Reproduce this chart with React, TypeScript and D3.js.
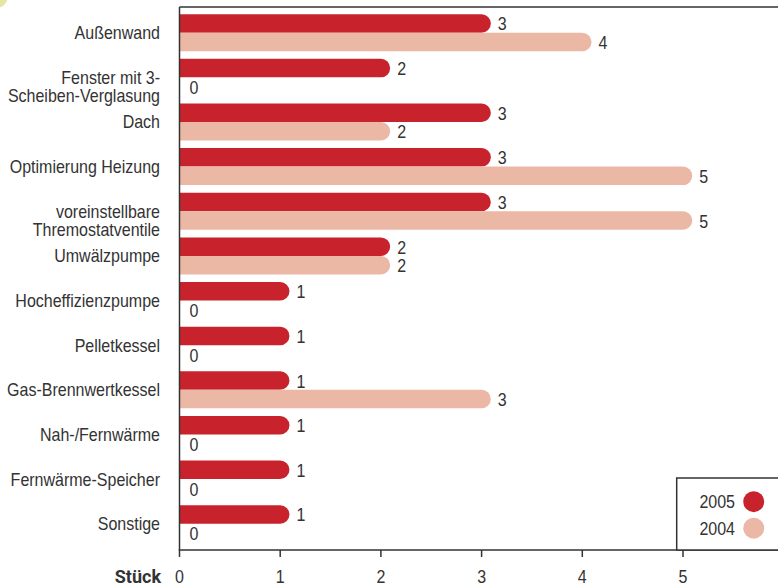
import React from "react";
import * as d3 from "d3";

const categories: string[][] = [
  ["Außenwand"],
  ["Fenster mit 3-", "Scheiben-Verglasung"],
  ["Dach"],
  ["Optimierung Heizung"],
  ["voreinstellbare", "Thremostatventile"],
  ["Umwälzpumpe"],
  ["Hocheffizienzpumpe"],
  ["Pelletkessel"],
  ["Gas-Brennwertkessel"],
  ["Nah-/Fernwärme"],
  ["Fernwärme-Speicher"],
  ["Sonstige"],
];

const values2005 = [3, 2, 3, 3, 3, 2, 1, 1, 1, 1, 1, 1];
const values2004 = [4, 0, 2, 5, 5, 2, 0, 0, 3, 0, 0, 0];

const seriesNames = ["2005", "2004"];
const xTicks = [0, 1, 2, 3, 4, 5];
const axisTitle = "Stück";

const W = 778;
const H = 586;
const RED = "#c8232c";
const PINK = "#ebb8a5";
const INK = "#333333";
const FONT = "'Liberation Sans', Arial, sans-serif";
const FS = 18;
const SX = 0.89; // horizontal condensing of the label face

const x = d3.scaleLinear().domain([0, 5]).range([179.5, 683]);
const yCenter = d3
  .scalePoint<number>()
  .domain(d3.range(categories.length))
  .range([32.7, 523.7]);

const BAR_H = 18.5;
const R = BAR_H / 2;

function barPath(v: number, top: number): string {
  const x0 = x(0);
  const x1 = x(v);
  const p = d3.path();
  p.moveTo(x0, top);
  p.lineTo(x1, top);
  p.arc(x1, top + R, R, -Math.PI / 2, Math.PI / 2);
  p.lineTo(x0, top + BAR_H);
  p.closePath();
  return p.toString();
}

function labelX(v: number): number {
  return v > 0 ? x(v) + R + 7 : x(0) + 10;
}

type CTextProps = {
  x: number;
  y: number;
  anchor?: "start" | "middle" | "end";
  size?: number;
  weight?: string;
  children: React.ReactNode;
};

function CText({ x, y, anchor = "start", size = FS, weight = "normal", children }: CTextProps) {
  return (
    <text
      transform={`translate(${x},${y}) scale(${SX},1)`}
      textAnchor={anchor}
      fontSize={size}
      fontWeight={weight}
      fill={INK}
    >
      {children}
    </text>
  );
}

export default function App() {
  const axisY = 550;
  const frameTop = 7;
  return (
    <svg
      width={W}
      height={H}
      viewBox={`0 0 ${W} ${H}`}
      style={{ position: "absolute", left: 0, top: 0, background: "#fff" }}
      fontFamily={FONT}
    >
      <circle cx={-4} cy={-4} r={12} fill="#e4e6a6" />

      {categories.map((lines, i) => {
        const c = yCenter(i)!;
        const top = c - BAR_H;
        const v5 = values2005[i];
        const v4 = values2004[i];
        return (
          <g key={i}>
            {v5 > 0 && <path d={barPath(v5, top)} fill={RED} />}
            {v4 > 0 && <path d={barPath(v4, c)} fill={PINK} />}
            <CText x={labelX(v5)} y={c - R + 7}>
              {v5}
            </CText>
            <CText x={labelX(v4)} y={c + R + 7.2}>
              {v4}
            </CText>
            {lines.map((ln, j) => (
              <CText key={j} x={160} y={c + 6.5 + j * 18} anchor="end">
                {ln}
              </CText>
            ))}
          </g>
        );
      })}

      {/* frame: top line, left axis, bottom axis */}
      <line x1={x(0)} x2={W} y1={frameTop} y2={frameTop} stroke={INK} strokeWidth={1.5} />
      <line x1={x(0)} x2={x(0)} y1={frameTop} y2={axisY} stroke={INK} strokeWidth={1.5} />
      <line x1={x(0) - 0.75} x2={W} y1={axisY} y2={axisY} stroke={INK} strokeWidth={1.5} />

      {xTicks.map((t) => (
        <g key={t}>
          <line x1={x(t)} x2={x(t)} y1={axisY} y2={axisY + 7} stroke={INK} strokeWidth={1.5} />
          <CText x={x(t)} y={582.5} anchor="middle">
            {t}
          </CText>
        </g>
      ))}
      <text
        x={161}
        y={582.5}
        textAnchor="end"
        fontSize={18}
        fontWeight="bold"
        fontFamily="Roboto, sans-serif"
        fill={INK}
      >
        {axisTitle}
      </text>

      {/* legend */}
      <rect x={676.7} y={478} width={W} height={axisY - 478} fill="#fff" stroke={INK} strokeWidth={1.5} />
      {seriesNames.map((name, i) => {
        const cy = 501.7 + i * 26.5;
        return (
          <g key={name}>
            <CText x={735} y={cy + 6.5} anchor="end">
              {name}
            </CText>
            <circle cx={753.7} cy={cy} r={10.5} fill={i === 0 ? RED : PINK} />
          </g>
        );
      })}
    </svg>
  );
}
